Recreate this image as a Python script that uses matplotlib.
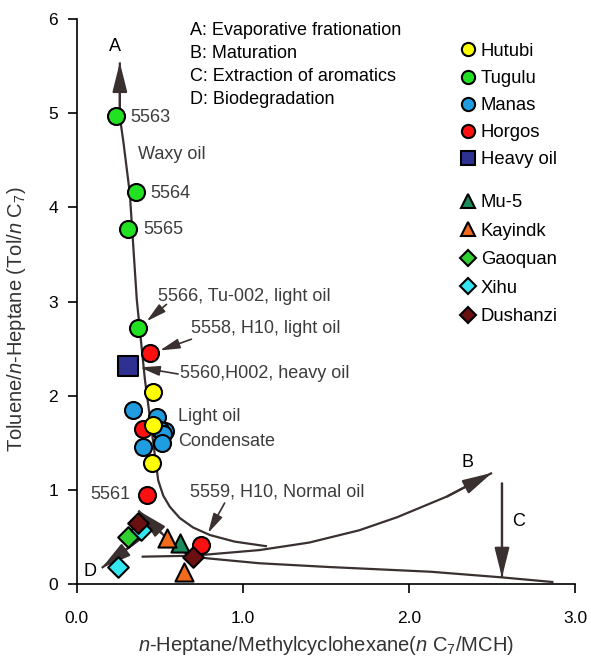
import matplotlib
matplotlib.use('Agg')
import matplotlib.pyplot as plt
from matplotlib.lines import Line2D

plt.rcParams['font.family'] = ['Liberation Sans', 'DejaVu Sans']
plt.rcParams['mathtext.fontset'] = 'custom'
plt.rcParams['mathtext.rm'] = 'Liberation Sans'
plt.rcParams['mathtext.it'] = 'Liberation Sans:italic'

# samples: nC7/MCH (x) vs Tol/nC7 (y)
hutubi_x = [0.46, 0.46, 0.45]
hutubi_y = [2.04, 1.69, 1.29]
tugulu_x = [0.235, 0.355, 0.31, 0.37]
tugulu_y = [4.97, 4.16, 3.77, 2.72]
manas_x = [0.34, 0.48, 0.53, 0.50, 0.52, 0.51, 0.40]
manas_y = [1.85, 1.77, 1.62, 1.64, 1.59, 1.50, 1.46]
horgos_x = [0.44, 0.40, 0.42, 0.75]
horgos_y = [2.45, 1.65, 0.95, 0.41]
heavy_x = [0.31]
heavy_y = [2.32]
mu5_x = [0.62]
mu5_y = [0.44]
kayindk_x = [0.54, 0.645]
kayindk_y = [0.49, 0.13]
gaoquan_x = [0.31]
gaoquan_y = [0.50]
xihu_x = [0.385, 0.25]
xihu_y = [0.57, 0.18]
dushanzi_x = [0.37, 0.70]
dushanzi_y = [0.65, 0.29]

# trend paths
path_a_x = [1.145, 0.95, 0.801, 0.70, 0.620, 0.560, 0.520, 0.490, 0.458,
            0.410, 0.361, 0.319, 0.280, 0.259, 0.259]
path_a_y = [0.40, 0.45, 0.52, 0.60, 0.70, 0.82, 0.94, 1.10, 1.53,
            2.17, 3.02, 4.15, 4.70, 4.96, 5.54]
path_b_x = [0.39, 0.70, 1.10, 1.40, 1.70, 1.93, 2.23, 2.50]
path_b_y = [0.29, 0.30, 0.36, 0.44, 0.57, 0.71, 0.93, 1.18]
path_long_x = [2.87, 2.56, 2.13, 1.52, 1.10, 0.80, 0.70, 0.62, 0.51, 0.37]
path_long_y = [0.02, 0.07, 0.13, 0.18, 0.22, 0.27, 0.29, 0.36, 0.54, 0.78]
path_c_x = [2.56, 2.56]
path_c_y = [1.07, 0.07]
path_d_x = [0.48, 0.15]
path_d_y = [0.61, 0.17]

line_col = '#3a3030'
txt_col = '#3c3c3c'

fig = plt.figure(figsize=(5.91, 6.58), dpi=100)
ax = fig.add_axes([0.130, 0.1125, 0.843, 0.8585])

def path_arrow(xs, ys):
    ax.plot(xs, ys, color=line_col, lw=1.6, zorder=2, solid_capstyle='butt')
    ax.annotate('', xy=(xs[-1], ys[-1]), xytext=(xs[-2], ys[-2]),
                arrowprops=dict(arrowstyle='-|>,head_length=1.8,head_width=0.45',
                                mutation_scale=10, color=line_col, lw=1.6,
                                shrinkA=0, shrinkB=0), zorder=2)

path_arrow(path_a_x, path_a_y)
path_arrow(path_b_x, path_b_y)
path_arrow(path_long_x, path_long_y)
path_arrow(path_c_x, path_c_y)
path_arrow(path_d_x, path_d_y)

ek = dict(edgecolors='black', linewidths=1.5, zorder=4)
ax.scatter(tugulu_x, tugulu_y, s=150, marker='o', c='#22e022', **ek)
ax.scatter(manas_x, manas_y, s=150, marker='o', c='#1f9de0', **ek)
ax.scatter(horgos_x, horgos_y, s=150, marker='o', c='#ff1010', **ek)
ax.scatter(hutubi_x, hutubi_y, s=150, marker='o', c='#ffff00', **ek)
ax.scatter(heavy_x, heavy_y, s=190, marker='s', c='#2e3192', **ek)
ax.scatter(mu5_x, mu5_y, s=170, marker='^', c='#1a8c5a', **ek)
ax.scatter(kayindk_x, kayindk_y, s=170, marker='^', c='#f26b1d', **ek)
ax.scatter(gaoquan_x, gaoquan_y, s=110, marker='D', c='#30d030', **ek)
ax.scatter(xihu_x, xihu_y, s=110, marker='D', c='#33e6f0', **ek)
ax.scatter(dushanzi_x, dushanzi_y, s=110, marker='D', c='#6b1010', **ek)

fs = 13
# sample labels
ax.text(0.32, 4.95, '5563', fontsize=fs, color=txt_col, va='center')
ax.text(0.44, 4.15, '5564', fontsize=fs, color=txt_col, va='center')
ax.text(0.40, 3.76, '5565', fontsize=fs, color=txt_col, va='center')
ax.text(0.37, 4.56, 'Waxy oil', fontsize=fs, color=txt_col, va='center')
ax.text(0.61, 1.78, 'Light oil', fontsize=fs, color=txt_col, va='center')
ax.text(0.61, 1.51, 'Condensate', fontsize=fs, color=txt_col, va='center')
ax.text(0.32, 0.95, '5561', fontsize=fs, color=txt_col, va='center', ha='right')

notes = [
    ('5566, Tu-002, light oil', (0.42, 2.79), (0.49, 3.05), (0.54, 2.97)),
    ('5558, H10, light oil', (0.50, 2.48), (0.69, 2.71), (0.69, 2.60)),
    ('5560,H002, heavy oil', (0.38, 2.30), (0.62, 2.24), (0.61, 2.23)),
    ('5559, H10, Normal oil', (0.79, 0.54), (0.68, 0.98), (0.89, 0.86)),
]
for label, tip, txt_pos, tail in notes:
    ax.text(txt_pos[0], txt_pos[1], label, fontsize=fs, color=txt_col, va='center')
    ax.annotate('', xy=tip, xytext=tail,
                arrowprops=dict(arrowstyle='-|>,head_length=1.2,head_width=0.3',
                                mutation_scale=10, color=line_col, lw=1.2,
                                shrinkA=0, shrinkB=0))

# process letters
ax.text(0.23, 5.71, 'A', fontsize=fs, color='black', ha='center', va='center')
ax.text(2.35, 1.29, 'B', fontsize=fs, color='black', ha='center', va='center')
ax.text(2.66, 0.66, 'C', fontsize=fs, color='black', ha='center', va='center')
ax.text(0.078, 0.13, 'D', fontsize=fs, color='black', ha='center', va='center')

processes = ['A: Evaporative frationation', 'B: Maturation',
             'C: Extraction of aromatics', 'D: Biodegradation']
for i, p in enumerate(processes):
    ax.text(0.68, 5.88 - i * 0.243, p, fontsize=fs, color='black', va='center')

# legend, two groups
def mk(m, c, ms=9.5):
    return Line2D([], [], marker=m, ls='none', markersize=ms, markerfacecolor=c,
                  markeredgecolor='black', markeredgewidth=1.5)

leg_kw = dict(loc='upper left', frameon=False, fontsize=13.3, handlelength=1.0,
              handletextpad=0.2, borderpad=0, borderaxespad=0)
top_handles = [mk('o', '#ffff00'), mk('o', '#22e022'), mk('o', '#1f9de0'),
               mk('o', '#ff1010'), mk('s', '#2e3192')]
top_labels = ['Hutubi', 'Tugulu', 'Manas', 'Horgos', 'Heavy oil']
leg1 = ax.legend(top_handles, top_labels, bbox_to_anchor=(0.766, 0.958),
                 labelspacing=0.55, **leg_kw)
ax.add_artist(leg1)
low_handles = [mk('^', '#1a8c5a', 10.5), mk('^', '#f26b1d', 10.5),
               mk('D', '#30d030', 8), mk('D', '#33e6f0', 8), mk('D', '#6b1010', 8)]
low_labels = ['Mu-5', 'Kayindk', 'Gaoquan', 'Xihu', 'Dushanzi']
ax.legend(low_handles, low_labels, bbox_to_anchor=(0.766, 0.690),
          labelspacing=0.62, **leg_kw)

ax.set_xlim(0, 3)
ax.set_ylim(0, 6)
ax.set_xticks([0, 1, 2, 3])
ax.set_xticklabels(['0.0', '1.0', '2.0', '3.0'])
ax.set_yticks(range(7))
ax.tick_params(direction='out', length=6.5, width=1.2, labelsize=12.5)
ax.tick_params(axis='x', pad=13)
ax.tick_params(axis='y', pad=7)
for s in ['top', 'right']:
    ax.spines[s].set_visible(False)
for s in ['left', 'bottom']:
    ax.spines[s].set_linewidth(1.2)

ax.set_xlabel(r'$\it{n}$-Heptane/Methylcyclohexane($\it{n}$ C$_7$/MCH)',
              fontsize=14.5, color='#333333', labelpad=6)
ax.set_ylabel(r'Toluene/$\it{n}$-Heptane (Tol/$\it{n}$ C$_7$)',
              fontsize=14.5, color='#333333')
ax.yaxis.set_label_coords(-0.098, 0.469)

fig.savefig('out.png', dpi=100)
